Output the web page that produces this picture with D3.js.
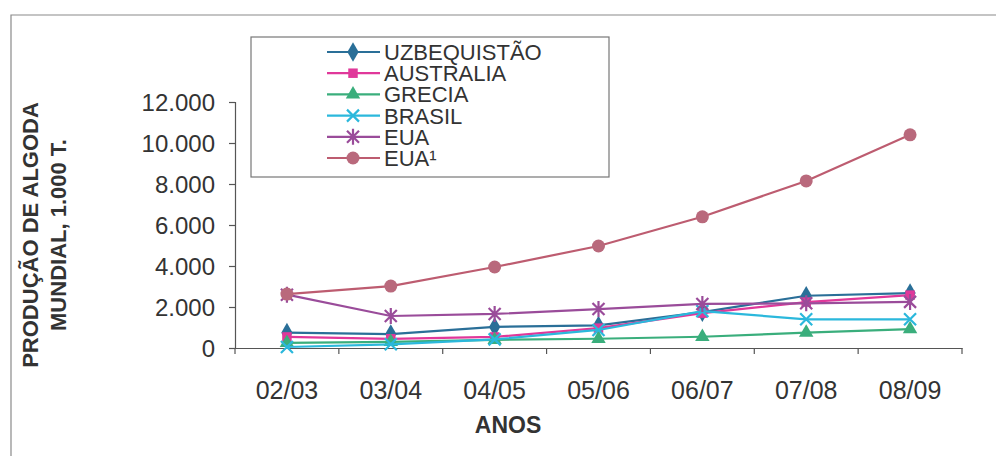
<!DOCTYPE html>
<html><head><meta charset="utf-8">
<script src="https://cdn.jsdelivr.net/npm/d3@7"></script>
<style>body{margin:0;background:#fff}svg{display:block}text{font-family:"Liberation Sans",Arial,sans-serif;fill:#333}</style>
</head><body>
<svg id="c" width="996" height="456"></svg>
<script>
const categories = ["02/03","03/04","04/05","05/06","06/07","07/08","08/09"];
const seriesNames = ["UZBEQUISTÃO","AUSTRALIA","GRECIA","BRASIL","EUA","EUA¹"];
const uzbequistao = [750, 680, 1030, 1100, 1750, 2550, 2680];
const australia   = [540, 450, 540, 970, 1700, 2240, 2580];
const grecia      = [250, 300, 400, 450, 550, 750, 920];
const brasil      = [50, 180, 420, 880, 1800, 1400, 1400];
const eua         = [2600, 1560, 1660, 1900, 2150, 2180, 2250];
const eua1        = [2630, 3020, 3950, 4975, 6400, 8150, 10400];
const yTicks = [0, 2000, 4000, 6000, 8000, 10000, 12000];
const yTickLabels = ["0","2.000","4.000","6.000","8.000","10.000","12.000"];

const seriesValues = [uzbequistao, australia, grecia, brasil, eua, eua1];
const colors = ["#2a6f98","#e0389a","#3aae7c","#2bb8dc","#9a4c9a","#bd5c70"];
const fills  = ["#2a6f98","#e0389a","#3aae7c","#2bb8dc","#9a4c9a","#b9697c"];
const shapes = ["diamond","square","triangle","x","asterisk","circle"];

const svg = d3.select("#c");
const L = 235, R = 962, T = 102, B = 348;
const x = d3.scaleBand().domain(categories).range([L, R]);
const y = d3.scaleLinear().domain([0, 12000]).range([B, T]);

// frame
svg.append("path").attr("d", `M11,456V15H996`).attr("fill","none").attr("stroke","#8a8a8a").attr("stroke-width",1.2);

// axes
const yAxis = d3.axisLeft(y).tickValues(yTicks).tickFormat((d,i)=>yTickLabels[i]).tickSize(6).tickPadding(14);
const gy = svg.append("g").attr("transform",`translate(${L},0)`).call(yAxis);
gy.select(".domain").attr("stroke","#555").attr("stroke-width",1.2);
gy.selectAll(".tick line").attr("stroke","#555").attr("stroke-width",1.2);
gy.selectAll(".tick text").attr("font-size",24).attr("fill","#333").attr("font-family","Liberation Sans, Arial, sans-serif").attr("dy","0.36em");

const xAxis = d3.axisBottom(x).tickSize(0).tickPadding(33);
const gx = svg.append("g").attr("transform",`translate(0,${B})`).call(xAxis);
gx.select(".domain").attr("stroke","#555").attr("stroke-width",1.2);
gx.selectAll(".tick text").attr("font-size",25).attr("fill","#333").attr("font-family","Liberation Sans, Arial, sans-serif");
// category separator ticks
const bounds = categories.map(c => x(c)).concat([x(categories[categories.length-1]) + x.bandwidth()]);
gx.selectAll(".sep").data(bounds).join("line").attr("class","sep")
  .attr("x1",d=>d).attr("x2",d=>d).attr("y1",0).attr("y2",6).attr("stroke","#555").attr("stroke-width",1.2);

// titles
svg.append("text").attr("x",508).attr("y",433).attr("text-anchor","middle").attr("font-size",23).attr("font-weight","bold").text("ANOS");
const yt = svg.append("g").attr("transform","translate(0,235) rotate(-90)");
yt.append("text").attr("x",0).attr("y",38).attr("text-anchor","middle").attr("font-size",22).attr("font-weight","bold").text("PRODUÇÃO DE ALGODA");
yt.append("text").attr("x",0).attr("y",66).attr("text-anchor","middle").attr("font-size",22).attr("font-weight","bold").text("MUNDIAL, 1.000 T.");

function marker(g, shape, color, fill){
  if(shape==="diamond") g.append("path").attr("d",d3.symbol(d3.symbolDiamond,110)()).attr("fill",fill);
  else if(shape==="square") g.append("path").attr("d",d3.symbol(d3.symbolSquare,90)()).attr("fill",fill);
  else if(shape==="triangle") g.append("path").attr("d",d3.symbol(d3.symbolTriangle,90)()).attr("fill",fill);
  else if(shape==="circle") g.append("circle").attr("r",6.5).attr("fill",fill);
  else if(shape==="x") g.append("path").attr("d","M-6,-6L6,6M-6,6L6,-6").attr("stroke",color).attr("stroke-width",2.2);
  else if(shape==="asterisk") g.append("path").attr("d","M-6,-6L6,6M-6,6L6,-6M0,-8V8").attr("stroke",color).attr("stroke-width",2.2);
}

const line = d3.line().x((d,i)=>x(categories[i]) + x.bandwidth()/2).y(d=>y(d));
seriesValues.forEach((vals, s) => {
  const g = svg.append("g");
  g.append("path").datum(vals).attr("d", line).attr("fill","none").attr("stroke",colors[s]).attr("stroke-width",2.2);
  vals.forEach((v,i) => {
    const m = g.append("g").attr("transform",`translate(${x(categories[i]) + x.bandwidth()/2},${y(v)})`);
    marker(m, shapes[s], colors[s], fills[s]);
  });
});

// legend
const lg = svg.append("g");
lg.append("rect").attr("x",251).attr("y",37).attr("width",358).attr("height",140).attr("fill","#fff").attr("stroke","#777").attr("stroke-width",1.2);
seriesNames.forEach((name, s) => {
  const yy = 52 + s*21.2;
  lg.append("line").attr("x1",327).attr("x2",380).attr("y1",yy).attr("y2",yy).attr("stroke",colors[s]).attr("stroke-width",2.2);
  const m = lg.append("g").attr("transform",`translate(353,${yy})`);
  marker(m, shapes[s], colors[s], fills[s]);
  lg.append("text").attr("x",384).attr("y",yy).attr("dy","0.36em").attr("font-size",22).text(name);
});
</script>
</body></html>
